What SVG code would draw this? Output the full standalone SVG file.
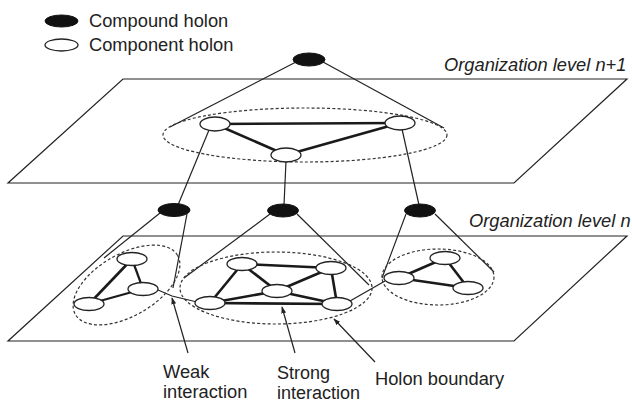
<svg xmlns="http://www.w3.org/2000/svg" width="632" height="403" viewBox="0 0 632 403">
<defs>
<style>
.ln{stroke:#222;stroke-width:1.2;fill:none}
.thick{stroke:#1a1a1a;stroke-width:2.6;fill:none}
.dash{stroke:#333;stroke-width:1.2;fill:none;stroke-dasharray:3 2.2}
.comp{fill:#fff;stroke:#222;stroke-width:1.3}
.cpd{fill:#111;stroke:#111;stroke-width:1}
.t{font-family:"Liberation Sans",Arial,sans-serif;font-size:18.3px;fill:#222}
.s{font-size:18px}
.it{font-style:italic}
</style>
<marker id="ah" viewBox="0 0 10 10" refX="9" refY="5" markerWidth="7" markerHeight="7" orient="auto" markerUnits="userSpaceOnUse">
<path d="M0,1.5 L10,5 L0,8.5 Z" fill="#222"/>
</marker>
</defs>
<rect width="632" height="403" fill="#fff"/>

<g id="legend">
<ellipse class="cpd" cx="61.5" cy="21" rx="16.5" ry="6"/>
<text class="t" x="89" y="27">Compound holon</text>
<ellipse class="comp" cx="61.5" cy="45" rx="16.5" ry="6"/>
<text class="t" x="89" y="51">Component holon</text>
</g>

<g id="plane-top">
<polygon class="ln" points="123,79 627,79 514,183 8,183"/>
<text class="t it" x="444" y="71">Organization level n+1</text>
</g>
<g id="plane-bottom">
<polygon class="ln" points="123,236 627,236 514,341 8,341"/>
<text class="t it" x="469" y="227">Organization level n</text>
</g>

<g id="connectors">
<line class="ln" x1="296" y1="62" x2="170" y2="127"/>
<line class="ln" x1="323" y1="62" x2="444" y2="128"/>
<line class="thick" x1="215" y1="124" x2="400" y2="123"/>
<line class="thick" x1="215" y1="124" x2="286" y2="155"/>
<line class="thick" x1="286" y1="155" x2="400" y2="123"/>
<line class="ln" x1="209" y1="130" x2="178" y2="205"/>
<line class="ln" x1="286" y1="161" x2="284" y2="205"/>
<line class="ln" x1="402" y1="129" x2="419" y2="205"/>
<line class="ln" x1="160" y1="213" x2="104" y2="258"/>
<line class="ln" x1="187" y1="214" x2="173" y2="288"/>
<line class="ln" x1="270" y1="214" x2="184" y2="278"/>
<line class="ln" x1="297" y1="214" x2="369" y2="285"/>
<line class="ln" x1="406" y1="214" x2="382" y2="278"/>
<line class="ln" x1="435" y1="214" x2="494" y2="272"/>
<line class="thick" x1="132" y1="259" x2="89" y2="304"/>
<line class="thick" x1="132" y1="259" x2="143" y2="289" style="stroke-width:2.2"/>
<line class="thick" x1="89" y1="304" x2="143" y2="289" style="stroke-width:2.2"/>
<line class="thick" x1="242" y1="264" x2="331" y2="268"/>
<line class="thick" x1="242" y1="264" x2="210" y2="303"/>
<line class="thick" x1="242" y1="264" x2="277" y2="291"/>
<line class="thick" x1="331" y1="268" x2="277" y2="291"/>
<line class="thick" x1="331" y1="268" x2="337" y2="304"/>
<line class="thick" x1="277" y1="291" x2="210" y2="303"/>
<line class="thick" x1="277" y1="291" x2="337" y2="304"/>
<line class="thick" x1="210" y1="303" x2="337" y2="304"/>
<line class="thick" x1="399" y1="278" x2="445" y2="258"/>
<line class="thick" x1="399" y1="278" x2="468" y2="288"/>
<line class="thick" x1="445" y1="258" x2="468" y2="288"/>
<polyline class="ln" points="158,290 172,296 197,302"/>
<line class="ln" x1="350" y1="301" x2="385" y2="281"/>
<line class="ln" x1="188" y1="353" x2="172" y2="298" marker-end="url(#ah)"/>
<line class="ln" x1="295" y1="353" x2="282" y2="307" marker-end="url(#ah)"/>
<line class="ln" x1="375" y1="362" x2="334" y2="319" marker-end="url(#ah)"/>
</g>

<g id="boundaries">
<ellipse class="dash" cx="305" cy="135" rx="142" ry="27"/>
<ellipse class="dash" cx="126.5" cy="285" rx="59" ry="31" transform="rotate(-30 126.5 285)"/>
<ellipse class="dash" cx="276" cy="288" rx="96" ry="36"/>
<ellipse class="dash" cx="438" cy="277" rx="56" ry="28"/>
</g>

<g id="holon-top"><ellipse class="cpd" cx="309" cy="59.5" rx="16" ry="6.5"/></g>
<g id="holon-top-a"><ellipse class="comp" cx="215" cy="124" rx="15" ry="7"/></g>
<g id="holon-top-b"><ellipse class="comp" cx="400" cy="123" rx="15" ry="7"/></g>
<g id="holon-top-c"><ellipse class="comp" cx="286" cy="155" rx="15" ry="7"/></g>

<g id="holon-left"><ellipse class="cpd" cx="174" cy="210" rx="16" ry="6.5"/></g>
<g id="holon-mid"><ellipse class="cpd" cx="283" cy="210.5" rx="15.5" ry="6.5"/></g>
<g id="holon-right"><ellipse class="cpd" cx="420" cy="210.5" rx="15.5" ry="6.5"/></g>

<g id="holon-l1"><ellipse class="comp" cx="132" cy="259" rx="15" ry="6.5"/></g>
<g id="holon-l2"><ellipse class="comp" cx="143" cy="289" rx="15" ry="6.5"/></g>
<g id="holon-l3"><ellipse class="comp" cx="89" cy="304" rx="15" ry="6.5"/></g>

<g id="holon-m1"><ellipse class="comp" cx="242" cy="264" rx="15" ry="6.5"/></g>
<g id="holon-m2"><ellipse class="comp" cx="331" cy="268" rx="15" ry="6.5"/></g>
<g id="holon-m3"><ellipse class="comp" cx="277" cy="291" rx="15" ry="6.5"/></g>
<g id="holon-m4"><ellipse class="comp" cx="210" cy="303" rx="15" ry="6.5"/></g>
<g id="holon-m5"><ellipse class="comp" cx="337" cy="304" rx="15" ry="6.5"/></g>

<g id="holon-r1"><ellipse class="comp" cx="399" cy="278" rx="15" ry="6.5"/></g>
<g id="holon-r2"><ellipse class="comp" cx="445" cy="258" rx="15" ry="6.5"/></g>
<g id="holon-r3"><ellipse class="comp" cx="468" cy="288" rx="15" ry="6.5"/></g>

<g id="labels">
<text class="t" x="163" y="378">Weak</text>
<text class="t" x="163" y="398">interaction</text>
<text class="t s" x="277" y="379">Strong</text>
<text class="t s" x="277" y="399">interaction</text>
<text class="t" x="375" y="385">Holon boundary</text>
</g>
</svg>
